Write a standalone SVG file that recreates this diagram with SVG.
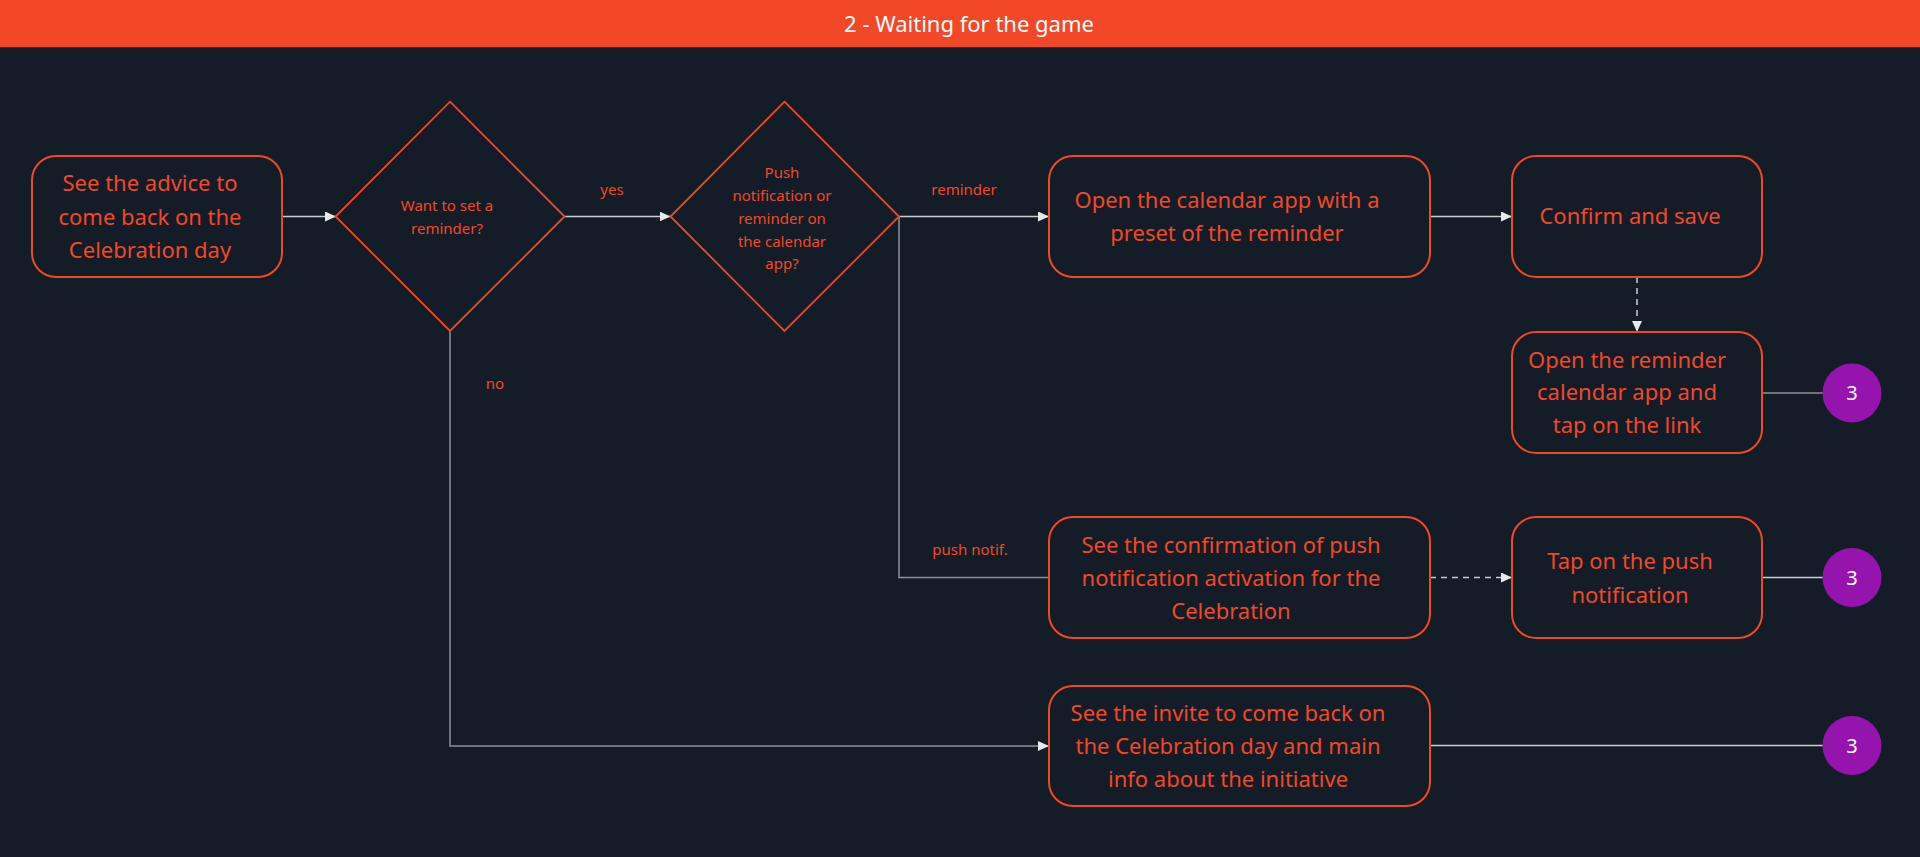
<svg xmlns="http://www.w3.org/2000/svg" width="1920" height="857" viewBox="0 0 1920 857">
<style>
.node{fill:#141c28;stroke:#f24827;stroke-width:2}
.dia{fill:#141c28;stroke:#f24827;stroke-width:1.8}
.nt{font-family:"Noto Sans","Open Sans","Liberation Sans",sans-serif;font-size:22px;fill:#f24827;text-anchor:middle}
.dt{font-family:"Noto Sans","Open Sans","Liberation Sans",sans-serif;font-size:15px;fill:#f24827;text-anchor:middle}
.lbl{font-family:"Noto Sans","Open Sans","Liberation Sans",sans-serif;font-size:15px;fill:#f24827;text-anchor:middle}
.arr{fill:none;stroke:#c9cdd2;stroke-width:1.5}
.elb{fill:none;stroke:#8b9198;stroke-width:1.5}
.dash{stroke-dasharray:6 5}
.term{fill:#9414ad}
.tt{font-family:"Noto Sans","Open Sans","Liberation Sans",sans-serif;font-size:20px;fill:#ffffff;text-anchor:middle}
</style>
<defs>
<marker id="ah" markerUnits="userSpaceOnUse" markerWidth="11" markerHeight="10" refX="11" refY="5" orient="auto">
<path d="M0,0 L11,5 L0,10 z" fill="#e8e9eb"/>
</marker>
</defs>
<rect x="0" y="0" width="1920" height="857" fill="#141c28"/>
<g id="header">
<rect x="0" y="0" width="1920" height="47" fill="#f24827"/>
<line x1="0" y1="47.5" x2="1920" y2="47.5" stroke="#2f3238" stroke-width="1"/>
<text x="969" y="32" font-family="'Noto Sans','Open Sans','Liberation Sans',sans-serif" font-size="22" fill="#ffffff" text-anchor="middle">2 - Waiting for the game</text>
</g>
<g id="connectors">
<path class="arr" d="M282 216.5 H336" marker-end="url(#ah)"/>
<path class="arr" d="M565 216.5 H670.5" marker-end="url(#ah)"/>
<path class="arr" d="M899 216.5 H1049" marker-end="url(#ah)"/>
<path class="arr" d="M1430 216.5 H1512" marker-end="url(#ah)"/>
<path class="arr dash" d="M1637 277 V332" marker-end="url(#ah)"/>
<path class="elb" d="M1762 393 H1823"/>
<path class="elb" d="M899 216.5 V577.5 H1049"/>
<path class="arr dash" d="M1430 577.5 H1512" marker-end="url(#ah)"/>
<path class="arr" d="M1762 577.5 H1823"/>
<path class="elb" d="M450 331 V746 H1049" marker-end="url(#ah)"/>
<path class="arr" d="M1430 745.5 H1823"/>
<text class="lbl" x="612" y="194.5">yes</text>
<text class="lbl" x="964" y="194.5">reminder</text>
<text class="lbl" x="495" y="388.5">no</text>
<text class="lbl" x="970" y="554.5">push notif.</text>
</g>
<g id="advice">
<rect class="node" x="32" y="156" width="250" height="121" rx="24"/>
<text class="nt" x="150" y="191">See the advice to</text>
<text class="nt" x="150" y="224.5">come back on the</text>
<text class="nt" x="150" y="258">Celebration day</text>
</g>
<g id="want-reminder">
<polygon class="dia" points="450,101.7 564.6,216.5 450,331 335.6,216.5"/>
<text class="dt" x="447" y="210.5">Want to set a</text>
<text class="dt" x="447" y="233.5">reminder?</text>
</g>
<g id="push-or-calendar">
<polygon class="dia" points="784.5,101.7 899,216.5 784.5,331 670.5,216.5"/>
<text class="dt" x="782" y="178">Push</text>
<text class="dt" x="782" y="201">notification or</text>
<text class="dt" x="782" y="223.5">reminder on</text>
<text class="dt" x="782" y="246.5">the calendar</text>
<text class="dt" x="782" y="268.5">app?</text>
</g>
<g id="open-calendar">
<rect class="node" x="1049" y="156" width="381" height="121" rx="24"/>
<text class="nt" x="1227" y="207.5">Open the calendar app with a</text>
<text class="nt" x="1227" y="240.5">preset of the reminder</text>
</g>
<g id="confirm-save">
<rect class="node" x="1512" y="156" width="250" height="121" rx="24"/>
<text class="nt" x="1630" y="224">Confirm and save</text>
</g>
<g id="open-reminder">
<rect class="node" x="1512" y="332" width="250" height="121" rx="24"/>
<text class="nt" x="1627" y="367.5">Open the reminder</text>
<text class="nt" x="1627" y="400">calendar app and</text>
<text class="nt" x="1627" y="432.5">tap on the link</text>
</g>
<g id="push-confirmation">
<rect class="node" x="1049" y="517" width="381" height="121" rx="24"/>
<text class="nt" x="1231" y="552.5">See the confirmation of push</text>
<text class="nt" x="1231" y="586">notification activation for the</text>
<text class="nt" x="1231" y="619">Celebration</text>
</g>
<g id="tap-push">
<rect class="node" x="1512" y="517" width="250" height="121" rx="24"/>
<text class="nt" x="1630" y="569">Tap on the push</text>
<text class="nt" x="1630" y="602.5">notification</text>
</g>
<g id="invite">
<rect class="node" x="1049" y="686" width="381" height="120" rx="24"/>
<text class="nt" x="1228" y="721">See the invite to come back on</text>
<text class="nt" x="1228" y="754">the Celebration day and main</text>
<text class="nt" x="1228" y="787">info about the initiative</text>
</g>
<g id="goto3-a">
<circle class="term" cx="1852" cy="393" r="29.5"/>
<text class="tt" x="1852" y="400">3</text>
</g>
<g id="goto3-b">
<circle class="term" cx="1852" cy="577.5" r="29.5"/>
<text class="tt" x="1852" y="584.5">3</text>
</g>
<g id="goto3-c">
<circle class="term" cx="1852" cy="745.5" r="29.5"/>
<text class="tt" x="1852" y="752.5">3</text>
</g>
</svg>
